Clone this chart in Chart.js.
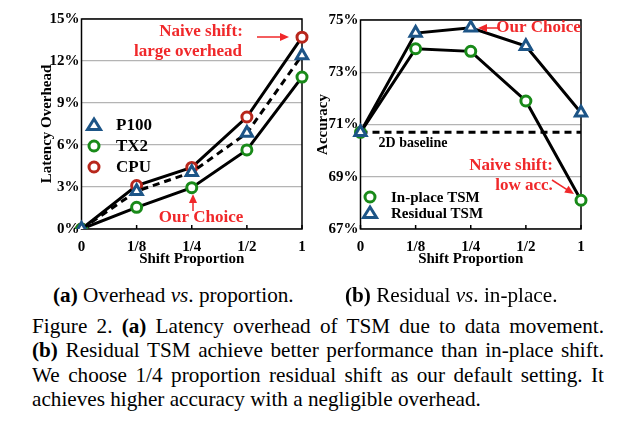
<!DOCTYPE html>
<html>
<head>
    <title>TSM shift proportion</title>
    <script src="https://cdn.jsdelivr.net/npm/chart.js"></script>
    <style>
        body { margin: 0; background: #fff; width: 635px; height: 440px; position: relative; overflow: hidden; }
        .plot { position: absolute; top: 0; }
        .sub { position: absolute; top: 283px; font: 21.2px "Liberation Serif", serif; white-space: nowrap; }
        .cap { position: absolute; left: 32px; width: 572px; font: 21.2px "Liberation Serif", serif; }
        .cap div { height: 24.3px; line-height: 24.3px; white-space: nowrap; }
        .cap .j { text-align: justify; text-align-last: justify; white-space: normal; overflow: hidden; }
    </style>
</head>
<body>
    <canvas id="overheadChart" class="plot" style="left:0" width="320" height="280"></canvas>
    <canvas id="accChart" class="plot" style="left:310px" width="325" height="280"></canvas>

    <div class="sub" style="left:53px"><b>(a)</b> Overhead <i>vs</i>. proportion.</div>
    <div class="sub" style="left:345px"><b>(b)</b> Residual <i>vs</i>. in-place.</div>

    <div class="cap" style="top:314px">
        <div class="j">Figure 2. <b>(a)</b> Latency overhead of TSM due to data movement.</div>
        <div class="j"><b>(b)</b> Residual TSM achieve better performance than in-place shift.</div>
        <div class="j">We choose 1/4 proportion residual shift as our default setting. It</div>
        <div>achieves higher accuracy with a negligible overhead.</div>
    </div>

    <script>
        // data
        const proportions = ['0', '1/8', '1/4', '1/2', '1'];
        const cpuOverhead = [0, 3.1, 4.4, 8.0, 13.7];
        const p100Overhead = [0, 2.7, 4.05, 6.85, 12.4];
        const tx2Overhead = [0, 1.55, 2.95, 5.65, 10.85];
        const overheadTicks = [0, 3, 6, 9, 12, 15];

        const residualAcc = [70.7, 74.5, 74.7, 74.0, 71.45];
        const inplaceAcc = [70.7, 73.9, 73.8, 71.9, 68.1];
        const baselineAcc = 70.7;
        const accTicks = [67, 69, 71, 73, 75];

        const RED = '#b8271c', GREEN = '#198a19', BLUE = '#1d5587', NOTE = '#f0282a';
        const serif = '"Liberation Serif", serif';
        const tickFont = { family: serif, size: 15, weight: 'bold' };

        function marker(ctx, style, color, x, y) {
            ctx.save();
            ctx.strokeStyle = color;
            ctx.fillStyle = '#fff';
            ctx.lineWidth = 3;
            ctx.beginPath();
            if (style === 'triangle') {
                ctx.moveTo(x, y - 6);
                ctx.lineTo(x + 6.5, y + 4.5);
                ctx.lineTo(x - 6.5, y + 4.5);
                ctx.closePath();
            } else {
                ctx.arc(x, y, 5, 0, Math.PI * 2);
            }
            ctx.fill();
            ctx.stroke();
            ctx.restore();
        }

        function arrow(ctx, x1, y1, x2, y2) {
            const a = Math.atan2(y2 - y1, x2 - x1);
            ctx.save();
            ctx.strokeStyle = NOTE;
            ctx.fillStyle = NOTE;
            ctx.lineWidth = 1.5;
            ctx.beginPath();
            ctx.moveTo(x1, y1);
            ctx.lineTo(x2 - 6 * Math.cos(a), y2 - 6 * Math.sin(a));
            ctx.stroke();
            ctx.beginPath();
            ctx.moveTo(x2, y2);
            ctx.lineTo(x2 - 9 * Math.cos(a) + 4 * Math.sin(a), y2 - 9 * Math.sin(a) - 4 * Math.cos(a));
            ctx.lineTo(x2 - 9 * Math.cos(a) - 4 * Math.sin(a), y2 - 9 * Math.sin(a) + 4 * Math.cos(a));
            ctx.closePath();
            ctx.fill();
            ctx.restore();
        }

        function text(ctx, str, x, y, color, size) {
            ctx.save();
            ctx.font = 'bold ' + size + 'px ' + serif;
            ctx.fillStyle = color;
            ctx.textAlign = 'center';
            ctx.textBaseline = 'middle';
            ctx.fillText(str, x, y);
            ctx.restore();
        }

        // black frame + small inward ticks on the x axis
        const frame = {
            id: 'frame',
            beforeDatasetsDraw(chart) {
                const { ctx, chartArea: a, scales } = chart;
                ctx.save();
                ctx.strokeStyle = '#000';
                ctx.lineWidth = 1.5;
                ctx.strokeRect(a.left, a.top, a.right - a.left, a.bottom - a.top);
                ctx.beginPath();
                proportions.forEach((p, i) => {
                    const x = scales.x.getPixelForValue(i);
                    ctx.moveTo(x, a.bottom);
                    ctx.lineTo(x, a.bottom - 4);
                });
                ctx.stroke();
                ctx.restore();
            }
        };

        function axes(yMin, yMax, ticks, yWidth, yTitle, titlePad) {
            return {
                x: {
                    type: 'category',
                    offset: false,
                    afterFit: s => { s.height = 51; },
                    grid: { display: false, drawTicks: false },
                    border: { display: false },
                    ticks: { color: '#000', font: tickFont, padding: 9, maxRotation: 0 },
                    title: { display: true, text: 'Shift Proportion', color: '#000', font: tickFont, padding: { top: 0, bottom: 12 } }
                },
                y: {
                    min: yMin, max: yMax,
                    afterFit: s => { s.width = yWidth; },
                    afterBuildTicks: s => { s.ticks = ticks.map(v => ({ value: v })); },
                    grid: { color: '#b4b4b4', lineWidth: 1.2, drawTicks: false },
                    border: { display: false },
                    ticks: { color: '#000', font: tickFont, padding: 2, callback: v => v + '%' },
                    title: { display: true, text: yTitle, color: '#000', font: tickFont, padding: { top: titlePad, bottom: 0 } }
                }
            };
        }

        function series(label, data, color, style, dash) {
            return {
                label: label,
                data: data,
                borderColor: '#000',
                borderWidth: 3,
                borderDash: dash || [],
                tension: 0,
                pointStyle: style,
                pointRadius: style === 'triangle' ? 6.5 : 5,
                pointBorderWidth: 3,
                pointBorderColor: color,
                pointBackgroundColor: '#fff'
            };
        }

        const overheadNotes = {
            id: 'overheadNotes',
            afterDraw(chart) {
                const ctx = chart.ctx;
                const legend = [['P100', 'triangle', BLUE, 125], ['TX2', 'circle', GREEN, 146], ['CPU', 'circle', RED, 167]];
                legend.forEach(([name, style, color, y]) => {
                    marker(ctx, style, color, 94, y);
                    ctx.save();
                    ctx.font = 'bold 17px ' + serif;
                    ctx.fillStyle = '#000';
                    ctx.textBaseline = 'middle';
                    ctx.fillText(name, 116, y + 1);
                    ctx.restore();
                });
                text(ctx, 'Naive shift:', 201, 32, NOTE, 17);
                text(ctx, 'large overhead', 188, 52, NOTE, 17);
                arrow(ctx, 257, 37, 289, 37);
                text(ctx, 'Our Choice', 201, 218, NOTE, 17);
                arrow(ctx, 193, 211, 193, 194);
            }
        };

        // first dataset is painted last, so P100 triangles sit on top
        new Chart(document.getElementById('overheadChart'), {
            type: 'line',
            data: {
                labels: proportions,
                datasets: [
                    series('P100', p100Overhead, BLUE, 'triangle', [7, 5]),
                    series('TX2', tx2Overhead, GREEN, 'circle'),
                    series('CPU', cpuOverhead, RED, 'circle')
                ]
            },
            options: {
                responsive: false,
                animation: false,
                layout: { padding: { left: 0, top: 19, right: 18, bottom: 0 } },
                plugins: { legend: { display: false }, tooltip: { enabled: false } },
                scales: axes(0, 15, overheadTicks, 81.5, 'Latency Overhead', 38)
            },
            plugins: [frame, overheadNotes]
        });

        const accNotes = {
            id: 'accNotes',
            afterDraw(chart) {
                const ctx = chart.ctx;
                const legend = [['In-place TSM', 'circle', GREEN, 197], ['Residual TSM', 'triangle', BLUE, 213]];
                legend.forEach(([name, style, color, y]) => {
                    marker(ctx, style, color, 60, y);
                    ctx.save();
                    ctx.font = 'bold 15px ' + serif;
                    ctx.fillStyle = '#000';
                    ctx.textBaseline = 'middle';
                    ctx.fillText(name, 81, y + 1);
                    ctx.restore();
                });
                text(ctx, 'Our Choice', 228.5, 28, NOTE, 17);
                arrow(ctx, 189, 28, 168, 28);
                text(ctx, '2D baseline', 103, 143, '#000', 14);
                text(ctx, 'Naive shift:', 201, 166, NOTE, 17);
                text(ctx, 'low acc.', 214, 186, NOTE, 17);
                arrow(ctx, 242, 180, 264, 194);
            }
        };

        new Chart(document.getElementById('accChart'), {
            type: 'line',
            data: {
                labels: proportions,
                datasets: [
                    series('Residual TSM', residualAcc, BLUE, 'triangle'),
                    series('In-place TSM', inplaceAcc, GREEN, 'circle'),
                    {
                        label: '2D baseline',
                        data: proportions.map(() => baselineAcc),
                        borderColor: '#000',
                        borderWidth: 3,
                        borderDash: [7, 5],
                        pointRadius: 0
                    }
                ]
            },
            options: {
                responsive: false,
                animation: false,
                layout: { padding: { left: 0, top: 20, right: 54, bottom: 0 } },
                plugins: { legend: { display: false }, tooltip: { enabled: false } },
                scales: axes(67, 75, accTicks, 50.5, 'Accuracy', 4)
            },
            plugins: [frame, accNotes]
        });
    </script>
</body>
</html>
